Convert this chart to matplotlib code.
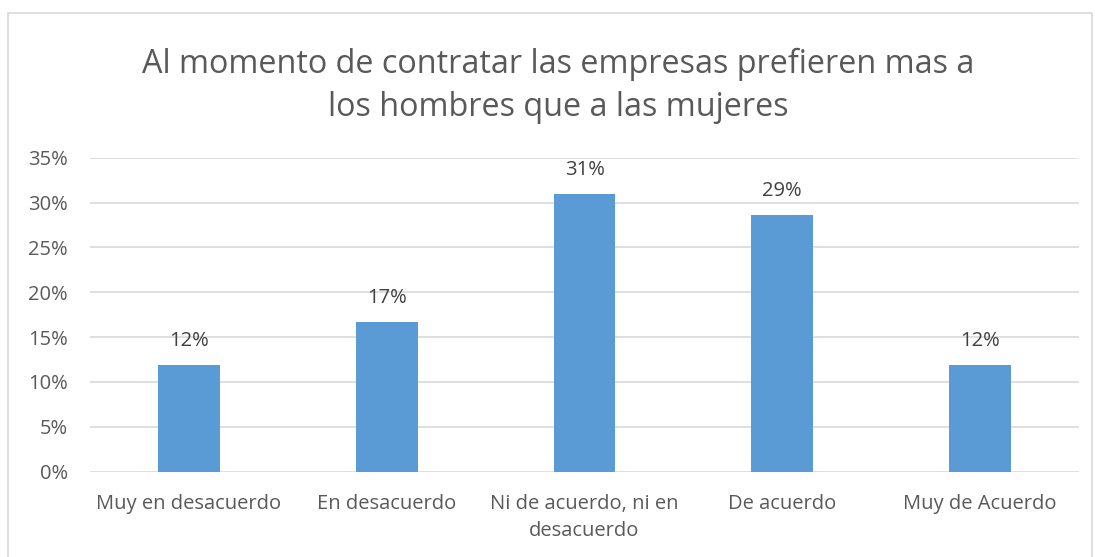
import matplotlib.pyplot as plt
from matplotlib.patches import Rectangle
from matplotlib.ticker import PercentFormatter

# Data
categories = ['Muy en desacuerdo', 'En desacuerdo', 'Ni de acuerdo, ni en\ndesacuerdo',
              'De acuerdo', 'Muy de Acuerdo']
values = [0.119, 0.167, 0.310, 0.286, 0.119]
labels = ['12%', '17%', '31%', '29%', '12%']
title = 'Al momento de contratar las empresas prefieren mas a\nlos hombres que a las mujeres'

text_color = '#595959'
plt.rcParams['font.family'] = ['Open Sans', 'DejaVu Sans']

fig = plt.figure(figsize=(10.95, 5.57), dpi=100)
ax = fig.add_axes([0.0822, 0.1531, 0.9032, 0.5638])

# light border around the whole chart
fig.patches.append(Rectangle((8 / 1095, -0.01), 1084 / 1095, 1 - 13 / 557 + 0.01,
                             transform=fig.transFigure, fill=False,
                             edgecolor='#d9d9d9', linewidth=1.2))

x = range(len(categories))
bars = ax.bar(x, values, width=0.313, color='#5b9bd5', zorder=3)

for b, lab in zip(bars, labels):
    ax.annotate(lab, (b.get_x() + b.get_width() / 2, b.get_height()),
                xytext=(0, 10), textcoords='offset points',
                ha='center', va='bottom', fontsize=14.5, color='#404040')

ax.set_xlim(-0.5, len(categories) - 0.5)
ax.set_ylim(0, 0.35)
ax.set_yticks([i * 0.05 for i in range(8)])
ax.yaxis.set_major_formatter(PercentFormatter(1.0, decimals=0))
ax.set_xticks(list(x))
ax.set_xticklabels(categories, linespacing=1.45)
ax.grid(axis='y', color='#d9d9d9', linewidth=1.2, zorder=0)
for s in ax.spines.values():
    s.set_visible(False)
ax.tick_params(axis='both', length=0, labelsize=14.5, colors=text_color)
ax.tick_params(axis='x', pad=16)
ax.tick_params(axis='y', pad=16)

fig.text(0.51, 0.915, title, ha='center', va='top', fontsize=23.3,
         color=text_color, linespacing=1.42)

fig.savefig('out.png', dpi=100)
